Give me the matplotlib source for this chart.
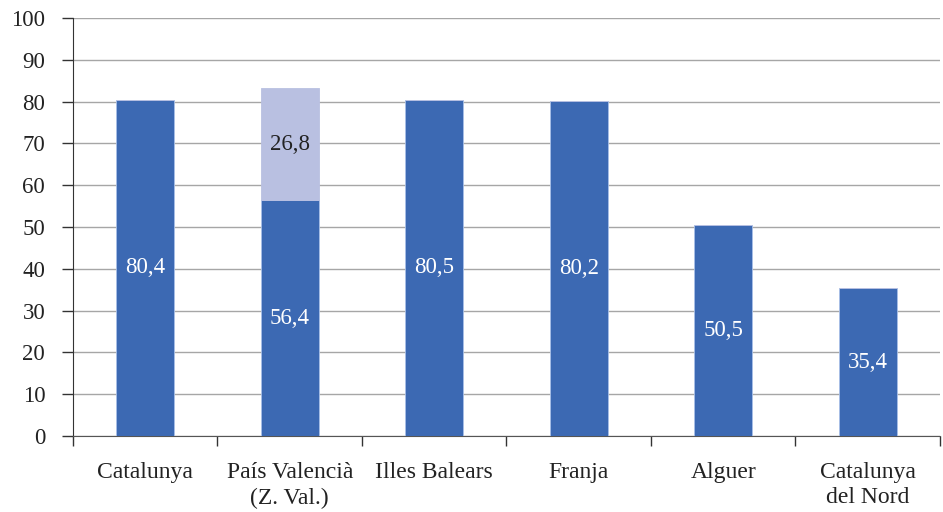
import matplotlib.pyplot as plt
import numpy as np

plt.rcParams['font.family'] = ['Liberation Serif', 'DejaVu Serif']

categories = ['Catalunya', 'País Valencià\n(Z. Val.)', 'Illes Balears', 'Franja', 'Alguer', 'Catalunya\ndel Nord']
base_vals = [80.4, 56.4, 80.5, 80.2, 50.5, 35.4]
extra_vals = [0, 26.8, 0, 0, 0, 0]

dark = '#3c69b3'
light = '#b9c0e1'

fig = plt.figure(figsize=(9.43, 5.12), dpi=100)
ax = fig.add_axes([0.0774, 0.1484, 0.9194, 0.8164])

x = np.arange(len(categories))
ax.bar(x, base_vals, width=0.4, color=dark, edgecolor='#a8c0e8', linewidth=0.6, zorder=3)
ax.bar(x, extra_vals, width=0.4, bottom=base_vals, color=light, edgecolor=light, linewidth=0.6, zorder=3)

for xi, b, e in zip(x, base_vals, extra_vals):
    ax.text(xi, b / 2, f'{b:.1f}'.replace('.', ','), ha='center', va='center',
            color='white', fontsize=16.5, zorder=4)
    if e > 0:
        ax.text(xi, b + e / 2, f'{e:.1f}'.replace('.', ','), ha='center', va='center',
                color='#222222', fontsize=16.5, zorder=4)

ax.set_xlim(-0.5, len(categories) - 0.5)
ax.set_ylim(0, 100)
ax.set_yticks(np.arange(0, 101, 10))
ax.yaxis.grid(True, color='#a6a6a6', linewidth=1.0, zorder=0)

ax.set_xticks(x)
ax.set_xticklabels(categories, fontsize=17, color='#222222', linespacing=1.25)
ax.tick_params(axis='x', length=0, pad=19)
ax.set_xticks(np.arange(-0.5, len(categories), 1.0), minor=True)
ax.tick_params(axis='x', which='minor', length=7, width=1, color='#333333', direction='out')
ax.tick_params(axis='y', length=8, width=1, color='#333333', labelsize=16.5, labelcolor='#222222', pad=12)

for s in ['top', 'right']:
    ax.spines[s].set_visible(False)
ax.spines['left'].set_color('#333333')
ax.spines['bottom'].set_color('#555555')

fig.savefig('out.png', dpi=100)
